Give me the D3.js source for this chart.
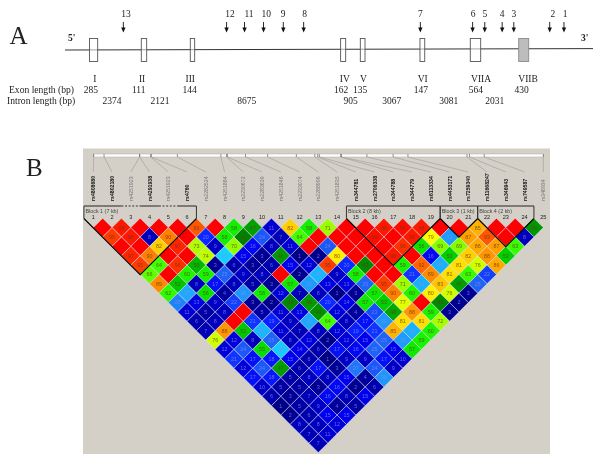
<!DOCTYPE html>
<html><head><meta charset="utf-8">
<script src="https://cdn.jsdelivr.net/npm/d3@7/dist/d3.min.js"></script>
<style>html,body{margin:0;padding:0;background:#fff}svg{display:block;filter:blur(.25px)}</style>
</head><body><svg id="c" width="600" height="462"></svg>
<script>
// Panel A: gene diagram data, in diagram units 0-100 along the gene line
const exonNames  = ["I","II","III","IV","V","VI","VIIA","VIIB"];
const exonStart  = [4.64,14.45,23.73,52.2,55.93,67.23,76.76,85.93];
const exonEnd    = [6.19,15.47,24.56,53.16,56.82,68.13,78.73,87.82];
const exonNameAt = [5.67,14.6,23.73,53.0,56.5,67.75,78.8,87.7];
const exonLength = [285,111,144,162,135,147,564,430];
const exonLenAt  = [4.9,13.95,23.6,52.3,55.9,67.4,77.8,86.5];
const intronLength=[2374,2121,8675,905,3067,3081,2031];
const intronAt   = [8.9,18.0,34.4,54.1,61.9,72.7,81.4];
const snpIds     = [1,2,3,4,5,6,7,8,9,10,11,12,13];
const snpArrowAt = [94.5,91.8,85.0,82.8,79.5,77.2,67.3,45.2,41.35,37.6,34.0,30.6,11.05];
const snpLabelAt = [94.7,92.4,85.0,82.8,79.5,77.3,67.3,45.4,41.3,38.1,34.85,31.25,11.55];

// Panel B: LD plot data
const markerNames = ["rs4808680","rs4802180","rs4251923","rs4291938","rs4251923","rs4760","rs2282524","rs4251884","rs2230672","rs2283639","rs4251846","rs2233074","rs2288996","rs4251835","rs344781","rs2706338","rs344788","rs344779","rs6113334","rs4453171","rs7259340","rs11668247","rs346943","rs749587","rs346934"];
const markerTagged = [1,1,0,1,0,1,0,0,0,0,0,0,0,0,1,1,1,1,1,1,1,1,1,1,0];
const markerKb = [0,1.26,5.6,5.6,6.95,7.02,10.2,15.5,16.2,16.3,18.5,21.2,24.7,26.95,27.3,27.5,30.1,30.2,33.3,36.5,38.3,45.5,45.8,47.6,54.8];
const blockNames = ["Block 1 (7 kb)","Block 2 (8 kb)","Block 3 (1 kb)","Block 4 (2 kb)"];
const blockFrom  = [1,15,20,22];
const blockTo    = [6,19,21,24];
// LD values (D' x 100); ldBySpan[k] holds the pairs (i, i+k+1) for i = 1, 2, ...
const ldBySpan = [
 [100,98,100,100,100,93,100,58,47,11,82,58,71,100,100,98,99,98,100,100,85,100,100,45],
 [95,98,8,90,100,20,58,41,24,7,64,100,100,100,99,100,98,79,31,87,93,100,8],
 [100,100,82,97,73,9,70,16,8,11,100,24,100,100,100,96,56,69,69,86,87,63],
 [97,90,100,100,74,39,15,3,46,1,2,80,100,100,98,100,16,53,82,88,53],
 [95,64,96,50,3,6,3,6,15,12,95,20,43,100,59,92,34,81,76,86],
 [66,100,60,59,25,9,8,100,2,35,9,58,100,100,21,89,81,63,22],
 [89,52,8,17,8,5,3,57,31,13,13,25,95,71,34,83,47,25],
 [62,33,56,4,30,58,12,7,8,1,3,57,90,60,80,76,3],
 [28,13,9,22,3,2,43,46,20,14,57,53,77,100,43,2],
 [11,5,8,100,5,11,13,44,12,4,23,48,88,59,3],
 [6,8,100,21,19,9,33,64,8,17,30,81,81,72],
 [7,88,52,35,11,7,8,12,19,21,85,34,60],
 [76,12,8,25,8,12,2,12,15,25,31,59],
 [12,24,55,38,14,6,17,16,25,15,57],
 [21,17,18,15,6,1,9,9,17,10],
 [12,24,47,6,17,3,27,24,9],
 [17,18,5,8,8,15,4,30],
 [10,5,5,3,16,2,6],
 [6,3,7,16,8,15],
 [1,5,9,4,5],
 [2,6,15,15],
 [8,8,12],
 [7,11],
 [7]
];
const colorStops = [0,4,9,15,20,25,30,39,41,47,53,58,64,70,76,79,82,87,90,95,100];
const colorRange = ["#000080","#00009c","#0000c4","#0000ee","#0a28ff","#1e64f5","#1e96fa","#14d2ff","#008200","#00a000","#00d000","#10f000","#40ff00","#90ff00","#d0ff00","#ffff00","#ffd000","#ffa000","#ff8000","#ff3c00","#ff0000"];

const svg = d3.select("#c");
const serif = "'Liberation Serif','Times New Roman',serif";
const sans  = "'Liberation Sans',Arial,sans-serif";

// ---------- Panel A ----------
const gx = d3.scaleLinear().domain([0,100]).range([65,593]);
const gy = d3.scaleLinear().domain([0,100]).range([50,48.6]);
const A = svg.append("g").attr("font-family",serif).attr("fill","#222");
A.append("text").attr("x",9.5).attr("y",43.5).attr("font-size",25).text("A");
A.append("text").attr("x",68).attr("y",40.5).attr("font-size",9.5).attr("font-weight","bold").text("5'");
A.append("text").attr("x",581).attr("y",41).attr("font-size",9.5).attr("font-weight","bold").text("3'");
A.append("line").attr("x1",gx(0)).attr("x2",gx(100)).attr("y1",gy(0)).attr("y2",gy(100)).attr("stroke","#333").attr("stroke-width",1);
exonNames.forEach((n,k)=>{
  A.append("rect").attr("x",gx(exonStart[k])).attr("y",38.5).attr("width",gx(exonEnd[k])-gx(exonStart[k])).attr("height",23)
   .attr("fill",n==="VIIB"?"#bdbdbd":"#fff").attr("fill-opacity",n==="VIIB"?1:0.55).attr("stroke",n==="VIIB"?"#8a8a8a":"#555").attr("stroke-width",.9);
  A.append("text").attr("x",gx(exonNameAt[k])).attr("y",82).attr("text-anchor","middle").attr("font-size",9.5).text(n);
  A.append("text").attr("x",gx(exonLenAt[k])).attr("y",93).attr("text-anchor","middle").attr("font-size",9.5).text(exonLength[k]);
});
intronLength.forEach((v,k)=>A.append("text").attr("x",gx(intronAt[k])).attr("y",104).attr("text-anchor","middle").attr("font-size",9.5).text(v));
A.append("text").attr("x",9).attr("y",93).attr("font-size",9.6).text("Exon length (bp)");
A.append("text").attr("x",7).attr("y",104).attr("font-size",9.6).text("Intron length (bp)");
snpIds.forEach((id,k)=>{
  const x=gx(snpArrowAt[k]);
  A.append("text").attr("x",gx(snpLabelAt[k])).attr("y",17).attr("text-anchor","middle").attr("font-size",9.5).text(id);
  A.append("line").attr("x1",x).attr("x2",x).attr("y1",22).attr("y2",29).attr("stroke","#111").attr("stroke-width",.9);
  A.append("path").attr("d",d3.line()([[x-2.2,27.5],[x+2.2,27.5],[x,32.5]])).attr("fill","#111");
});

// ---------- Panel B ----------
const step = 18.75, half = step/2;
const mx = d3.scaleLinear().domain([1,25]).range([93.3,543.3]);
const dy = d3.scaleLinear().domain([1,24]).range([227.6,443.2]);
const kbx = d3.scaleLinear().domain([0,54.8]).range([93.7,543.3]);
const col = d3.scaleLinear().domain(colorStops).range(colorRange).clamp(true);

const B = svg.append("g");
B.append("rect").attr("x",83).attr("y",148.5).attr("width",467).attr("height",305.5).attr("fill","#d4d0c8");
svg.append("text").attr("x",26).attr("y",176).attr("font-family",serif).attr("font-size",25).attr("fill","#222").text("B");

// position bar, connectors and marker names
B.append("rect").attr("x",kbx(0)).attr("y",154).attr("width",kbx(54.8)-kbx(0)).attr("height",3).attr("fill","#fff").attr("stroke","#aaa").attr("stroke-width",.5);
markerNames.forEach((name,k)=>{
  const bx=kbx(markerKb[k]), lx=mx(k+1);
  B.append("line").attr("x1",bx).attr("x2",bx).attr("y1",154).attr("y2",157).attr("stroke","#666").attr("stroke-width",.7);
  B.append("line").attr("x1",bx).attr("x2",lx).attr("y1",157).attr("y2",172).attr("stroke","#9a9a96").attr("stroke-width",.6);
  B.append("text").attr("transform",`translate(${lx+2},201) rotate(-90)`).attr("font-family",sans).attr("font-size",5.2)
   .attr("font-weight",markerTagged[k]?"bold":"normal").attr("fill",markerTagged[k]?"#111":"#777").text(name);
  B.append("text").attr("x",lx).attr("y",219).attr("text-anchor","middle").attr("font-family",sans).attr("font-size",5.6).attr("fill","#222").text(k+1);
});

// LD diamonds
ldBySpan.forEach((row,s)=>{
  const d=s+1;
  row.forEach((v,n)=>{
    const i=n+1, j=i+d, cx=(mx(i)+mx(j))/2, cy=dy(d);
    B.append("path").attr("d",d3.line()([[cx,cy-half],[cx+half,cy],[cx,cy+half],[cx-half,cy]])+"Z")
     .attr("fill",col(v)).attr("stroke","#e4e4f8").attr("stroke-opacity",.8).attr("stroke-width",.6);
    if(v<100) B.append("text").attr("x",cx).attr("y",cy+1.9).attr("text-anchor","middle").attr("font-family",sans).attr("font-size",5.4)
     .attr("fill",v<=39?"#8a8af0":"#6a3a10").attr("fill-opacity",v<=39?.75:.8).text(v);
  });
});

// block outlines
blockNames.forEach((name,k)=>{
  const a=mx(blockFrom[k])-half, b=mx(blockTo[k])+half, top=206, sh=218.5, mid=(a+b)/2, tip=sh+(b-a)/2;
  B.append("path").attr("d",d3.line()([[a,sh],[mid,tip],[b,sh]])).attr("fill","none").attr("stroke","#000").attr("stroke-width",1.1);
  B.append("path").attr("d",d3.line()([[a,sh],[a,top]])).attr("fill","none").attr("stroke","#333").attr("stroke-width",1);
  B.append("path").attr("d",d3.line()([[b,top],[b,sh]])).attr("fill","none").attr("stroke","#333").attr("stroke-width",1);
  for(let m=blockFrom[k];m<=blockTo[k];m++){
    const x0=m===blockFrom[k]?a:mx(m)-half, x1=m===blockTo[k]?b:mx(m)+half;
    B.append("line").attr("x1",x0).attr("x2",x1).attr("y1",top).attr("y2",top).attr("stroke","#333").attr("stroke-width",1.1)
     .attr("stroke-dasharray",markerTagged[m-1]?null:"2 1.6");
  }
  B.append("text").attr("x",a+1.5).attr("y",213).attr("font-family",sans).attr("font-size",5.4).attr("fill","#444").text(name);
});
</script></body></html>
